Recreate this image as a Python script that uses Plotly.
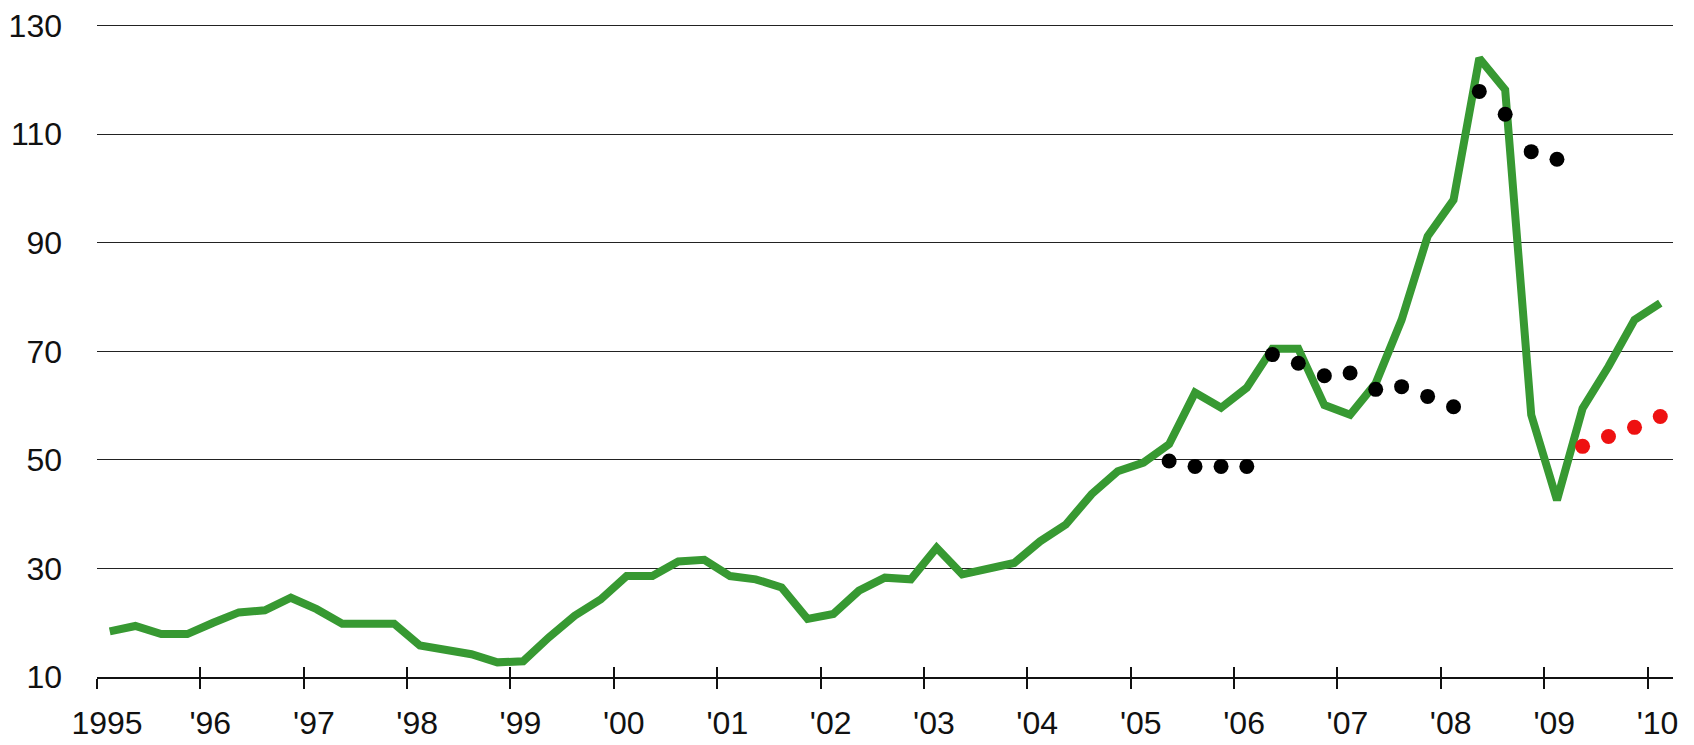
import pandas as pd
import plotly.graph_objects as go

# quarterly series, 1995Q1 .. 2010Q1
quarters = pd.period_range("1995Q1", "2010Q1", freq="Q")
actual = [18.4, 19.4, 17.9, 17.9,
          20.0, 21.9, 22.3, 24.6,
          22.5, 19.8, 19.8, 19.8,
          15.8, 14.9, 14.2, 12.7,
          12.9, 17.3, 21.3, 24.3,
          28.6, 28.6, 31.3, 31.6,
          28.6, 28.0, 26.5, 20.7,
          21.6, 25.9, 28.3, 28.0,
          33.8, 28.9, 30.1, 31.0,
          35.0, 38.1, 43.7, 47.9,
          49.5, 52.9, 62.4, 59.6,
          63.3, 70.5, 70.5, 60.1,
          58.3, 64.1, 75.8, 91.2,
          97.9, 124.0, 118.2, 58.3,
          42.6, 59.5, 67.2, 75.8,
          78.9]

# forecast vintages (black) and latest forecast (red)
fc1_q = ["2005Q2", "2005Q3", "2005Q4", "2006Q1"]
fc1 = [49.8, 48.8, 48.8, 48.8]
fc2_q = ["2006Q2", "2006Q3", "2006Q4", "2007Q1"]
fc2 = [69.4, 67.8, 65.5, 66.0]
fc3_q = ["2007Q2", "2007Q3", "2007Q4", "2008Q1"]
fc3 = [63.0, 63.5, 61.7, 59.8]
fc4_q = ["2008Q2", "2008Q3", "2008Q4", "2009Q1"]
fc4 = [117.9, 113.7, 106.8, 105.4]
fc_new_q = ["2009Q2", "2009Q3", "2009Q4", "2010Q1"]
fc_new = [52.5, 54.3, 56.0, 58.0]

years = list(range(1995, 2011))
year_labels = ["1995"] + ["'" + str(y)[2:] for y in years[1:]]
y_ticks = [10, 30, 50, 70, 90, 110, 130]


def mid(qs):
    p = pd.PeriodIndex(qs, freq="Q")
    return p.start_time + (p.end_time - p.start_time) / 2


fig = go.Figure()
fig.add_trace(go.Scatter(x=mid(quarters), y=actual, mode="lines",
                         line=dict(color="#379932", width=8)))
for qs, vals in [(fc1_q, fc1), (fc2_q, fc2), (fc3_q, fc3), (fc4_q, fc4)]:
    fig.add_trace(go.Scatter(x=mid(qs), y=vals, mode="markers",
                             marker=dict(color="black", size=15)))
fig.add_trace(go.Scatter(x=mid(fc_new_q), y=fc_new, mode="markers",
                         marker=dict(color="#ee1111", size=15)))

tickdates = [f"{y}-01-01" for y in years]
xrange = ["1995-01-01", "2010-04-01"]
# page body has an 8px margin, so the figure is a bit smaller than the window
fig.update_layout(
    width=1686, height=737,
    margin=dict(l=89, r=21, t=15, b=68),
    plot_bgcolor="white", paper_bgcolor="white",
    showlegend=False,
    font=dict(family="Liberation Sans, Arial, sans-serif", size=32, color="#111"),
    xaxis=dict(type="date", range=xrange, tickvals=tickdates, ticktext=year_labels,
               ticks="outside", ticklen=10, tickwidth=1.5, tickcolor="#111",
               showline=True, linecolor="#111", linewidth=1.5, showgrid=False,
               zeroline=False, ticklabelshift=10, ticklabelstandoff=7,
               ticklabeloverflow="allow", automargin=False),
    xaxis2=dict(type="date", range=xrange, tickvals=tickdates, overlaying="x",
                anchor="y", side="bottom", ticks="inside", ticklen=10, tickwidth=1.5,
                tickcolor="#111", showticklabels=False, showgrid=False,
                showline=False, zeroline=False, automargin=False),
    yaxis=dict(range=[10, 130.5], tickvals=y_ticks, showgrid=True, gridcolor="#222",
               gridwidth=1.3, zeroline=False, showline=False, ticks="",
               ticklabelstandoff=34, ticklabeloverflow="allow", automargin=False),
)
# dummy trace so xaxis2 is drawn
fig.add_trace(go.Scatter(x=[tickdates[0]], y=[None], xaxis="x2", showlegend=False))

fig.write_html("out.html")
